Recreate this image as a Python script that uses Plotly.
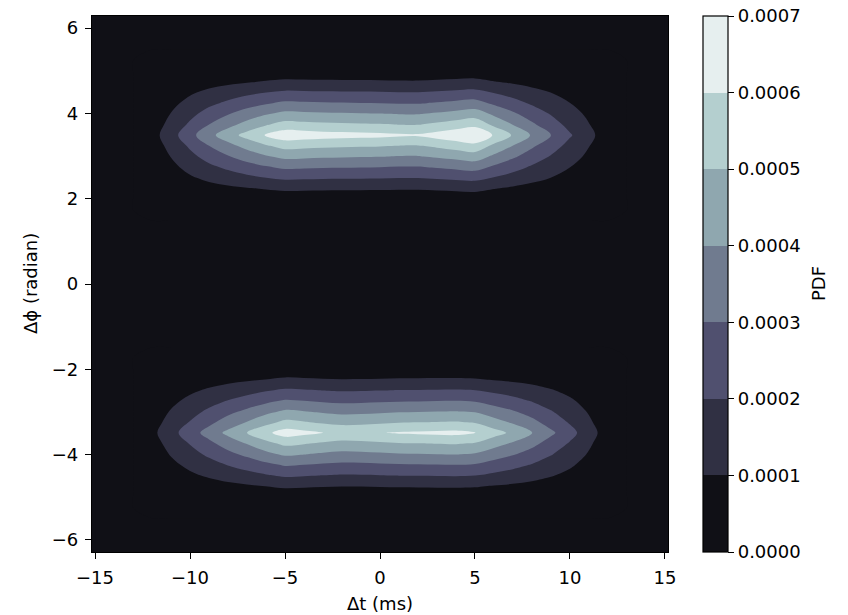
import plotly.graph_objects as go
import math

# ---- data ----
dt_ms = [-15, -14, -13, -12, -11, -10, -9, -8, -7, -6, -5, -4, -3, -2, -1, 0,
         1, 2, 3, 4, 5, 6, 7, 8, 9, 10, 11, 12, 13, 14, 15]

# peak PDF (x1e-3) along the centre row of each blob, per dt column
peak_top = [0, 0, 0, 0.06, 0.16, 0.267, 0.37, 0.455, 0.535, 0.605, 0.66, 0.65, 0.64,
            0.635, 0.63, 0.625, 0.615, 0.612, 0.64, 0.67, 0.70, 0.59, 0.49, 0.39,
            0.30, 0.21, 0.127, 0.045, 0, 0, 0]
peak_bot = [0, 0, 0, 0.075, 0.165, 0.253, 0.34, 0.425, 0.50, 0.578, 0.645, 0.625, 0.60,
            0.58, 0.585, 0.597, 0.61, 0.615, 0.62, 0.625, 0.608, 0.54, 0.478, 0.405,
            0.32, 0.235, 0.142, 0.05, 0, 0, 0]

# relative profile across dphi around each blob centre
phi_offsets = [-2.0, -1.75, -1.5, -1.25, -1.0, -0.75, -0.5, -0.25, 0.0,
               0.25, 0.5, 0.75, 1.0, 1.25, 1.5, 1.75, 2.0]
phi_profile = [0, 0.02, 0.075, 0.175, 0.33, 0.48, 0.645, 0.81, 1.0,
               0.81, 0.645, 0.48, 0.33, 0.175, 0.075, 0.02, 0]
centre_top = 3.49
centre_bot = -3.49

levels = [0.0000, 0.0001, 0.0002, 0.0003, 0.0004, 0.0005, 0.0006, 0.0007]
level_colors = ["#101016", "#303043", "#50506f", "#707b8f", "#8fa7af", "#b4cfcf", "#e6efef"]

# ---- build grid table ----
ys, zs = [], []
zero_row = [0.0] * len(dt_ms)
ys.append(-2 * math.pi); zs.append(zero_row)
for off, p in zip(phi_offsets, phi_profile):
    ys.append(centre_bot + off)
    zs.append([p * g * 1e-3 for g in peak_bot])
ys.append(0.0); zs.append(zero_row)
for off, p in zip(phi_offsets, phi_profile):
    ys.append(centre_top + off)
    zs.append([p * g * 1e-3 for g in peak_top])
ys.append(2 * math.pi); zs.append(zero_row)

n = len(level_colors)
cscale = []
for i, c in enumerate(level_colors):
    cscale.append([i / n, c])
    cscale.append([(i + 1) / n, c])

FONT = "DejaVu Sans"
L, R, T, B = 92, 180, 16, 63
PW = 848 - L - R
PH = 615 - T - B
fig = go.Figure()
fig.add_trace(go.Contour(
    x=dt_ms, y=ys, z=zs,
    contours=dict(start=levels[0], end=levels[-1], size=levels[1] - levels[0],
                  coloring="fill", showlines=False),
    colorscale=cscale, line=dict(width=0), showscale=False, hoverinfo="skip",
))
fig.add_trace(go.Scatter(
    x=[0], y=[0], mode="markers", hoverinfo="skip", showlegend=False,
    marker=dict(size=1, opacity=0, color=[0], colorscale=cscale,
                cmin=levels[0], cmax=levels[-1], showscale=True,
                colorbar=dict(
                    x=(703 - L) / PW, xanchor="left", xpad=0, ypad=0,
                    y=0.5, yanchor="middle", len=1, lenmode="fraction",
                    thickness=25, thicknessmode="pixels",
                    outlinewidth=1.2, outlinecolor="black",
                    tickvals=levels, ticktext=[f"{v:.4f}" for v in levels],
                    ticks="outside", ticklen=6, tickwidth=1.4, tickcolor="black",
                    tickfont=dict(family=FONT, size=18, color="black"),
                ))))

tfont = dict(family=FONT, size=18, color="black")
fig.add_annotation(text="PDF", x=(818 - L) / PW, y=0.5, xref="paper", yref="paper",
                   xanchor="center", yanchor="middle", textangle=-90, showarrow=False,
                   font=tfont)
fig.add_annotation(text="Δt (ms)", x=0.5, y=(552 - 603) / PH, xref="paper", yref="paper",
                   xanchor="center", yanchor="middle", showarrow=False, font=tfont)
fig.add_annotation(text="Δϕ (radian)", x=(30 - L) / PW, y=0.5, xref="paper", yref="paper",
                   xanchor="center", yanchor="middle", textangle=-90, showarrow=False,
                   font=tfont)

axis_common = dict(showgrid=False, zeroline=False, ticks="outside", ticklen=6,
                   tickwidth=1.4, tickcolor="black", showline=True, linecolor="black",
                   linewidth=1.2, mirror=True, automargin=False,
                   tickfont=tfont)
fig.update_xaxes(range=[-15.16, 15.16], tickvals=[-15, -10, -5, 0, 5, 10, 15],
                 ticklabelstandoff=3, **axis_common)
fig.update_yaxes(range=[-2 * math.pi, 2 * math.pi], tickvals=[-6, -4, -2, 0, 2, 4, 6],
                 ticklabelstandoff=3, **axis_common)
fig.update_layout(width=848, height=615, margin=dict(l=L, r=R, t=T, b=B, autoexpand=False),
                  paper_bgcolor="white", plot_bgcolor="#101016", showlegend=False,
                  font=tfont)
fig.write_html("out.html")
